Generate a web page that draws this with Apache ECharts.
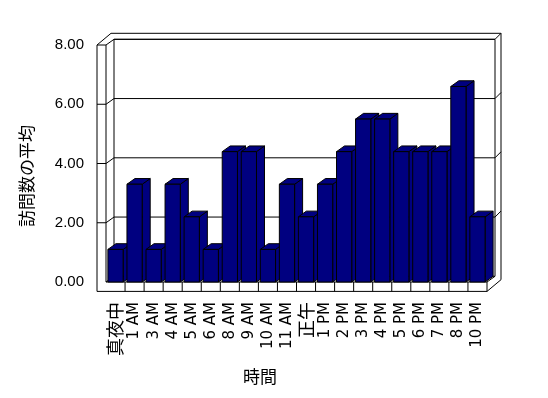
<!DOCTYPE html>
<html>
<head>
<meta charset="utf-8">
<script src="https://cdn.jsdelivr.net/npm/echarts@6/dist/echarts.min.js"></script>
<style>
  html, body { margin: 0; padding: 0; background: #fff; }
  #chart { width: 548px; height: 398px; }
</style>
</head>
<body>
<div id="chart"></div>
<script>
  // 時間帯ごとの訪問数の平均
  var categories = ['真夜中', '1 AM', '3 AM', '4 AM', '5 AM', '6 AM', '8 AM', '9 AM', '10 AM', '11 AM',
    '正午', '1 PM', '2 PM', '3 PM', '4 PM', '5 PM', '6 PM', '7 PM', '8 PM', '10 PM'];
  var visits = [1.1, 3.3, 1.1, 3.3, 2.2, 1.1, 4.4, 4.4, 1.1, 3.3,
    2.2, 3.3, 4.4, 5.5, 5.5, 4.4, 4.4, 4.4, 6.6, 2.2];
  var yTicks = [0, 2, 4, 6, 8];

  var DEPTH = [8, -5.7];     // 奥行きのずれ
  var SHELL = [14, -11.7];   // 壁の外側
  var WALL = 9;              // 左の壁の厚み
  var FLOOR = 9.4;           // 床の厚み
  var BAR = '#000080';

  function line(pts) {
    return { type: 'polyline', shape: { points: pts }, style: { stroke: '#000', lineWidth: 1, fill: null } };
  }

  // 壁・床・目盛線
  function renderFrame(params, api) {
    var cs = params.coordSys;
    var L = cs.x, R = cs.x + cs.width, T = cs.y, B = cs.y + cs.height;
    var dx = DEPTH[0], dy = DEPTH[1];
    var children = [];
    children.push({
      type: 'polygon',
      shape: { points: [[L - WALL, T], [L - WALL + SHELL[0], T + SHELL[1]], [R + SHELL[0], T + SHELL[1]],
        [R + SHELL[0], B + FLOOR + SHELL[1]], [R, B + FLOOR], [L - WALL, B + FLOOR]] },
      style: { fill: '#fff', stroke: '#000', lineWidth: 1 }
    });
    children.push({
      type: 'polygon',
      shape: { points: [[L + dx, T + dy], [R + dx, T + dy], [R + dx, B + dy], [L + dx, B + dy]] },
      style: { fill: '#fff', stroke: '#000', lineWidth: 1 }
    });
    children.push(line([[L, T], [L, B]]));
    children.push(line([[L + dx, B + dy], [L, B], [R, B], [R + dx, B + dy]]));
    children.push(line([[R, B], [R, B + FLOOR]]));
    for (var k = 1; k < categories.length; k++) {
      var xb = (api.coord([k - 1, 0])[0] + api.coord([k, 0])[0]) / 2;
      children.push(line([[xb, B], [xb, B + FLOOR]]));
    }
    yTicks.forEach(function (v) {
      if (v === 0) return;
      var yf = api.coord([0, v])[1];
      children.push(line([[L - WALL, yf], [L, yf], [L + dx, yf + dy], [R + dx, yf + dy], [R + SHELL[0], yf + SHELL[1]]]));
    });
    return { type: 'group', children: children };
  }

  // 立体の棒
  function renderBar(params, api) {
    var top = api.coord([api.value(0), api.value(1)]);
    var base = api.coord([api.value(0), 0]);
    var w = api.size([1, 0])[0] * 0.8;
    var dx = DEPTH[0], dy = DEPTH[1];
    var x0 = top[0] - w / 2, x1 = top[0] + w / 2, yT = top[1], yB = base[1];
    var st = { fill: BAR, stroke: '#000', lineWidth: 1 };
    return {
      type: 'group',
      children: [
        { type: 'polygon', shape: { points: [[x1, yT], [x1 + dx, yT + dy], [x1 + dx, yB + dy], [x1, yB]] }, style: st },
        { type: 'polygon', shape: { points: [[x0, yT], [x0 + dx, yT + dy], [x1 + dx, yT + dy], [x1, yT]] }, style: st },
        { type: 'rect', shape: { x: x0, y: yT, width: w, height: yB - yT }, style: st }
      ]
    };
  }

  var myChart = echarts.init(document.getElementById('chart'));
  var option = {
    backgroundColor: '#fff',
    animation: false,
    grid: { left: 106, right: 61, top: 45, bottom: 116 },
    xAxis: {
      type: 'category',
      data: categories,
      name: '時間',
      nameLocation: 'middle',
      nameGap: 86,
      nameTextStyle: { fontSize: 17, color: '#000', fontFamily: 'Noto Sans CJK JP', padding: [0, 73, 0, 0] },
      axisLine: { show: false },
      axisTick: { show: false },
      axisLabel: {
        interval: 0,
        rotate: 90,
        margin: 20,
        fontSize: 15,
        color: '#000',
        fontFamily: 'DejaVu Sans, Noto Sans CJK JP',
        formatter: function (v) {
          return /[^\x00-\x7f]/.test(v) ? '{c|' + v + '}' : v;
        },
        rich: { c: { fontSize: 18, fontFamily: 'Noto Sans CJK JP', color: '#000' } }
      }
    },
    yAxis: {
      type: 'value',
      min: 0,
      max: 8,
      interval: 2,
      name: '訪問数の平均',
      nameLocation: 'middle',
      nameGap: 71,
      nameTextStyle: { fontSize: 17, color: '#000', fontFamily: 'Noto Sans CJK JP', padding: [0, 25, 0, 0] },
      axisLine: { show: false },
      axisTick: { show: false },
      splitLine: { show: false },
      axisLabel: {
        margin: 22,
        fontSize: 15,
        color: '#000',
        fontFamily: 'Liberation Sans',
        formatter: function (v) { return v.toFixed(2); }
      }
    },
    series: [
      {
        type: 'custom',
        z: 1,
        silent: true,
        renderItem: renderFrame,
        data: [[0, 0]]
      },
      {
        type: 'custom',
        z: 2,
        renderItem: renderBar,
        encode: { x: 0, y: 1 },
        data: visits.map(function (v, i) { return [i, v]; })
      }
    ]
  };
  myChart.setOption(option);
</script>
</body>
</html>
